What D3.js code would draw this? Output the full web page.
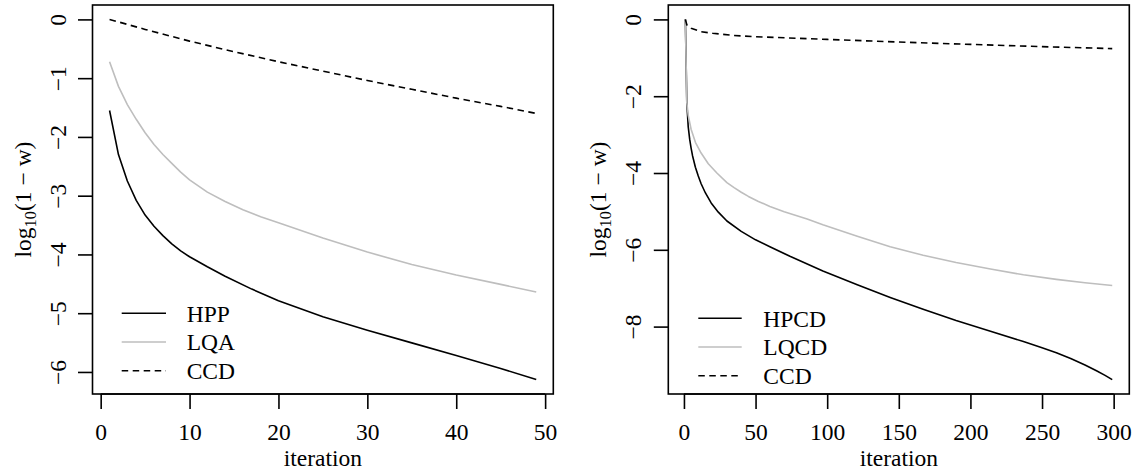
<!DOCTYPE html>
<html><head><meta charset="utf-8">
<script src="https://cdn.jsdelivr.net/npm/d3@7"></script>
<style>
html,body{margin:0;padding:0;background:#fff;}
svg{display:block;}
svg text{font-family:"Liberation Serif","Times New Roman",Times,"DejaVu Serif",serif !important;}
</style>
</head><body>
<svg id="c" width="1137" height="471"></svg>
<script>
// ---------- data ----------
const hppIter = [1,2,3,4,5,6,7,8,9,10,12,14,17,20,25,30,35,40,45,49];
const hppVals = [-1.55,-2.30,-2.75,-3.08,-3.33,-3.52,-3.68,-3.82,-3.94,-4.04,-4.21,-4.37,-4.59,-4.79,-5.06,-5.29,-5.505,-5.72,-5.94,-6.13];
const lqaIter = [1,2,3,4,5,6,7,8,9,10,12,14,16,18,20,25,30,35,40,45,49];
const lqaVals = [-0.72,-1.14,-1.45,-1.70,-1.93,-2.13,-2.30,-2.45,-2.60,-2.73,-2.94,-3.10,-3.24,-3.36,-3.46,-3.72,-3.96,-4.17,-4.35,-4.51,-4.64];
const ccdLeftIter = [1,5,10,15,20,25,30,35,40,45,49];
const ccdLeftVals = [0,-0.17,-0.37,-0.55,-0.72,-0.88,-1.04,-1.19,-1.34,-1.48,-1.60];

const hpcdIter = [1,2,3,4,5,6,8,10,12,15,19,24,30,40,50,60,74,97,121,144,167,190,214,237,250,260,270,280,288,294,299];
const hpcdVals = [0,-2.16,-2.80,-3.12,-3.35,-3.55,-3.85,-4.08,-4.28,-4.52,-4.78,-5.02,-5.25,-5.52,-5.74,-5.92,-6.17,-6.55,-6.91,-7.24,-7.55,-7.84,-8.12,-8.39,-8.55,-8.68,-8.83,-9.00,-9.15,-9.27,-9.38];
const lqcdIter = [1,2,3,5,8,12,17,23,30,35,40,45,52,60,70,86,97,121,144,167,190,214,237,260,280,299];
const lqcdVals = [0,-2.16,-2.50,-2.86,-3.20,-3.48,-3.76,-4.00,-4.25,-4.38,-4.50,-4.61,-4.74,-4.87,-5.01,-5.20,-5.35,-5.65,-5.92,-6.14,-6.33,-6.50,-6.65,-6.77,-6.86,-6.93];
const ccdRightIter = [1,2,3,5,12,20,35,50,86,100,150,200,250,299];
const ccdRightVals = [0,-0.14,-0.19,-0.23,-0.32,-0.36,-0.42,-0.45,-0.50,-0.52,-0.59,-0.65,-0.71,-0.76];

const leftXTicks = [0,10,20,30,40,50];
const leftYTicks = [-6,-5,-4,-3,-2,-1,0];
const rightXTicks = [0,50,100,150,200,250,300];
const rightYTicks = [-8,-6,-4,-2,0];

const leftNames = ["HPP","LQA","CCD"];
const rightNames = ["HPCD","LQCD","CCD"];
const xLabel = "iteration";

// ---------- drawing ----------
const FONT = "'Liberation Serif','Times New Roman',Times,'DejaVu Serif',serif";
const svg = d3.select("#c").attr("font-family", FONT);
const FS = 23.5;
const GRAY = "#bebebe";
const LW = 1.6;
const styles = [
  {stroke:"#000", dash:null},
  {stroke:GRAY, dash:null},
  {stroke:"#000", dash:"6.5,4.5"}
];

function zip(xs, ys){ return xs.map((x,i)=>({x:x, y:ys[i]})); }
function padExt(ext){ const d=(ext[1]-ext[0])*0.04; return [ext[0]-d, ext[1]+d]; }

function panel(opt){
  const {left,right,top,bottom,series,names,xTicks,yTicks,legend} = opt;
  const allX = series.flatMap(s=>s.map(d=>d.x));
  const allY = series.flatMap(s=>s.map(d=>d.y));
  const x = d3.scaleLinear().domain(padExt(d3.extent(allX))).range([left,right]);
  const y = d3.scaleLinear().domain(padExt(d3.extent(allY))).range([bottom,top]);
  const g = svg.append("g").attr("font-family", FONT);

  const line = d3.line().x(d=>x(d.x)).y(d=>y(d.y));
  series.forEach((s,i)=>{
    g.append("path").datum(s).attr("d",line)
      .attr("fill","none").attr("stroke",styles[i].stroke)
      .attr("stroke-width",LW)
      .attr("stroke-dasharray",styles[i].dash)
      .attr("stroke-linejoin","round");
  });

  g.append("rect").attr("x",left).attr("y",top).attr("width",right-left).attr("height",bottom-top)
    .attr("fill","none").attr("stroke","#000").attr("stroke-width",1.6);

  const fmt = d3.format("");
  const xa = g.append("g").attr("transform",`translate(0,${bottom})`)
    .call(d3.axisBottom(x).tickValues(xTicks).tickFormat(fmt).tickSize(15).tickSizeOuter(0));
  xa.attr("font-family", FONT).attr("font-size", FS);
  xa.select(".domain").remove();
  xa.selectAll(".tick line").attr("stroke","#000").attr("stroke-width",1.6);
  xa.selectAll(".tick text").attr("y",46).attr("dy",0).attr("fill","#000")
    .attr("font-family", FONT).attr("font-size", FS);
  g.append("line").attr("x1",x(xTicks[0])).attr("x2",x(xTicks[xTicks.length-1]))
    .attr("y1",bottom).attr("y2",bottom).attr("stroke","#000").attr("stroke-width",1.6);

  const ya = g.append("g").attr("transform",`translate(${left},0)`)
    .call(d3.axisLeft(y).tickValues(yTicks).tickFormat(fmt).tickSize(14.5).tickSizeOuter(0));
  ya.attr("font-family", FONT).attr("font-size", FS);
  ya.select(".domain").remove();
  ya.selectAll(".tick line").attr("stroke","#000").attr("stroke-width",1.6);
  ya.selectAll(".tick text").attr("transform","rotate(-90)").attr("x",0).attr("y",-27).attr("dy",0)
    .attr("text-anchor","middle").attr("fill","#000")
    .attr("font-family", FONT).attr("font-size", FS);

  g.append("text").attr("x",(left+right)/2).attr("y",466).attr("text-anchor","middle")
    .attr("font-family", FONT).attr("font-size", FS).text(xLabel);

  const yl = g.append("text").attr("transform",`translate(${left-62},${(top+bottom)/2}) rotate(-90)`)
    .attr("text-anchor","middle").attr("font-family", FONT).attr("font-size", FS);
  yl.append("tspan").text("log");
  yl.append("tspan").attr("dy",5).attr("font-size",FS*0.7).text("10");
  yl.append("tspan").attr("dy",-5).text("(1 \u2212 w)");

  names.forEach((n,i)=>{
    const ly = legend.y0 + i*legend.dy;
    g.append("line").attr("x1",legend.x1).attr("x2",legend.x2).attr("y1",ly).attr("y2",ly)
      .attr("stroke",styles[i].stroke).attr("stroke-width",LW).attr("stroke-dasharray",styles[i].dash);
    g.append("text").attr("x",legend.tx).attr("y",ly).attr("dy","0.35em")
      .attr("font-family", FONT).attr("font-size", FS).text(n);
  });
}

panel({
  left:92.5, right:553.3, top:5, bottom:394,
  series:[zip(hppIter,hppVals), zip(lqaIter,lqaVals), zip(ccdLeftIter,ccdLeftVals)],
  names:leftNames, xTicks:leftXTicks, yTicks:leftYTicks,
  legend:{x1:121.7, x2:166, tx:186.7, y0:313.3, dy:28.7}
});
panel({
  left:668.3, right:1129.3, top:5, bottom:394,
  series:[zip(hpcdIter,hpcdVals), zip(lqcdIter,lqcdVals), zip(ccdRightIter,ccdRightVals)],
  names:rightNames, xTicks:rightXTicks, yTicks:rightYTicks,
  legend:{x1:698.3, x2:741.7, tx:763.3, y0:318.3, dy:28.7}
});
</script>
</body></html>
